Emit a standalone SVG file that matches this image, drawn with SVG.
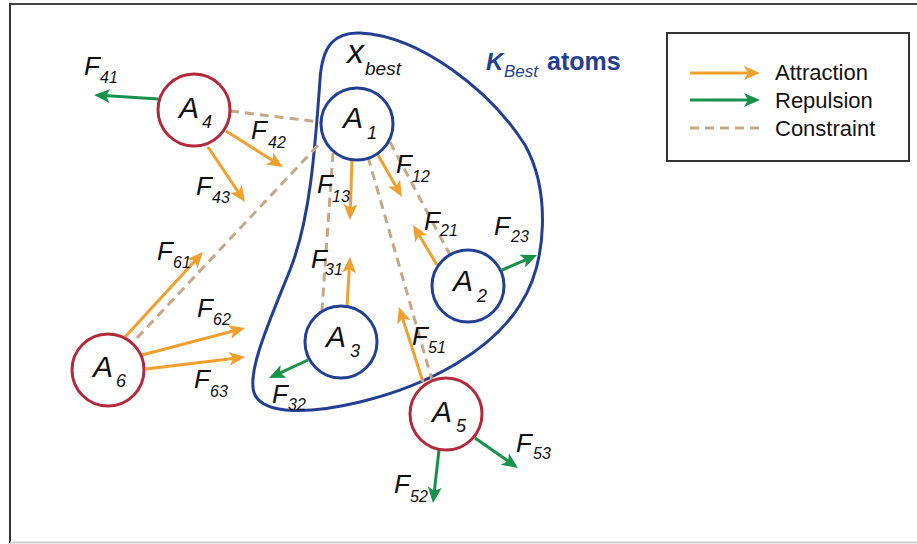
<svg xmlns="http://www.w3.org/2000/svg" width="917" height="544" viewBox="0 0 917 544">
<style>
text{font-family:"Liberation Sans",Arial,sans-serif;fill:#111}
.f{font-style:italic;font-size:26px}
.s{font-style:italic;font-size:16px}
.a{font-style:italic;font-size:30px}
.as{font-style:italic;font-size:18px}
.leg{font-size:22px}
.att{stroke:#F29F2E;stroke-width:3;fill:none;marker-end:url(#ho)}
.rep{stroke:#17924A;stroke-width:3;fill:none;marker-end:url(#hg)}
.con{stroke:#C6A887;stroke-width:3;fill:none;stroke-dasharray:9 6}
.kb{fill:#fff;stroke:#233F94;stroke-width:3}
.kr{fill:#fff;stroke:#B3293A;stroke-width:3}
</style>
<defs>
<marker id="ho" markerUnits="userSpaceOnUse" markerWidth="16" markerHeight="14" refX="6" refY="7" orient="auto"><path d="M0,0 L16,7 L0,14 L4,7 Z" fill="#F29F2E"/></marker>
<marker id="hg" markerUnits="userSpaceOnUse" markerWidth="16" markerHeight="14" refX="6" refY="7" orient="auto"><path d="M0,0 L16,7 L0,14 L4,7 Z" fill="#17924A"/></marker>
</defs>
<rect width="917" height="544" fill="#fff"/>
<line x1="9" y1="4" x2="917" y2="4" stroke="#444" stroke-width="2"/>
<line x1="10" y1="4" x2="10" y2="543" stroke="#333" stroke-width="2"/>
<line x1="10" y1="542.5" x2="917" y2="542.5" stroke="#d0d0d0" stroke-width="2"/>

<g id="kbest-region">
<path d="M320,80 C322,45 335,32 360,33 C420,36 490,90 525,145 C550,190 548,262 520,305 C492,350 430,385 360,402 C310,414 265,415 255,395 C245,375 270,320 290,270 C310,220 315,150 320,80 Z" fill="none" stroke="#233F94" stroke-width="3"/>
<text x="347" y="63" style="font-style:italic;font-size:34px">x</text>
<text x="365" y="75" style="font-style:italic;font-size:19px">best</text>
<text x="486" y="70" style="font-style:italic;font-weight:bold;font-size:24px;fill:#233F94">K</text>
<text x="504" y="77" style="font-style:italic;font-size:17px;fill:#233F94">Best</text>
<text x="547" y="70" style="font-weight:bold;font-size:25px;fill:#233F94">atoms</text>
</g>

<g id="connectors">
<line class="con" x1="230" y1="111" x2="320" y2="122"/>
<line class="con" x1="137" y1="338" x2="322" y2="141"/>
<line class="con" x1="333" y1="153" x2="322" y2="310"/>
<line class="con" x1="368" y1="157" x2="432" y2="380"/>
<line class="con" x1="390" y1="142" x2="450" y2="255"/>

<line class="att" x1="226" y1="131" x2="274.5" y2="161.7"/>
<line class="att" x1="208" y1="147" x2="239.4" y2="193.7"/>
<line class="att" x1="352" y1="160" x2="350.3" y2="210"/>
<line class="att" x1="378" y1="155" x2="397" y2="188.3"/>
<line class="att" x1="437" y1="265" x2="418.2" y2="233.6"/>
<line class="att" x1="347" y1="307" x2="349.4" y2="267"/>
<line class="att" x1="423" y1="382" x2="402" y2="316.5"/>
<line class="att" x1="125" y1="337" x2="196.2" y2="259.4"/>
<line class="att" x1="142" y1="355" x2="235.3" y2="330.5"/>
<line class="att" x1="146" y1="369" x2="235.1" y2="358.2"/>

<line class="rep" x1="158" y1="99" x2="104" y2="95.6"/>
<line class="rep" x1="502" y1="270" x2="527.8" y2="258.9"/>
<line class="rep" x1="308" y1="360" x2="278.1" y2="373.8"/>
<line class="rep" x1="475" y1="438" x2="509.8" y2="462.3"/>
<line class="rep" x1="439" y1="450" x2="434.1" y2="493.1"/>
</g>

<g id="A1"><circle class="kb" cx="357" cy="124" r="36"/><text class="a" x="343" y="128">A</text><text class="as" x="367" y="139">1</text></g>
<g id="A2"><circle class="kb" cx="468" cy="286" r="36"/><text class="a" x="453" y="291">A</text><text class="as" x="477" y="302">2</text></g>
<g id="A3"><circle class="kb" cx="341" cy="342" r="36"/><text class="a" x="326" y="347">A</text><text class="as" x="350" y="357">3</text></g>
<g id="A4"><circle class="kr" cx="194" cy="110" r="36"/><text class="a" x="179" y="118">A</text><text class="as" x="202" y="128">4</text></g>
<g id="A5"><circle class="kr" cx="446" cy="414" r="36"/><text class="a" x="432" y="422">A</text><text class="as" x="456" y="432">5</text></g>
<g id="A6"><circle class="kr" cx="108" cy="370" r="36"/><text class="a" x="93" y="377">A</text><text class="as" x="116" y="387">6</text></g>

<g id="force-labels">
<text class="f" x="84" y="75">F</text><text class="s" x="100" y="83">41</text>
<text class="f" x="251" y="139">F</text><text class="s" x="268" y="148">42</text>
<text class="f" x="196" y="195">F</text><text class="s" x="212" y="203">43</text>
<text class="f" x="317" y="193">F</text><text class="s" x="332" y="202">13</text>
<text class="f" x="396" y="173">F</text><text class="s" x="412" y="182">12</text>
<text class="f" x="424" y="230">F</text><text class="s" x="440" y="236">21</text>
<text class="f" x="494" y="235">F</text><text class="s" x="511" y="242">23</text>
<text class="f" x="311" y="268">F</text><text class="s" x="325" y="275">31</text>
<text class="f" x="412" y="345">F</text><text class="s" x="428" y="353">51</text>
<text class="f" x="272" y="403">F</text><text class="s" x="288" y="410">32</text>
<text class="f" x="157" y="260">F</text><text class="s" x="173" y="268">61</text>
<text class="f" x="197" y="317">F</text><text class="s" x="213" y="325">62</text>
<text class="f" x="194" y="388">F</text><text class="s" x="210" y="397">63</text>
<text class="f" x="516" y="452">F</text><text class="s" x="533" y="459">53</text>
<text class="f" x="394" y="493">F</text><text class="s" x="410" y="502">52</text>
</g>

<g id="legend">
<rect x="667" y="33" width="242" height="128" fill="#fff" stroke="#333" stroke-width="2"/>
<line class="att" x1="690" y1="73" x2="750" y2="73"/>
<line class="rep" x1="690" y1="100" x2="750" y2="100"/>
<line class="con" x1="690" y1="128" x2="760" y2="128" stroke-dasharray="2 6 10 6"/>
<text class="leg" x="775" y="80">Attraction</text>
<text class="leg" x="775" y="108">Repulsion</text>
<text class="leg" x="775" y="136">Constraint</text>
</g>
</svg>
